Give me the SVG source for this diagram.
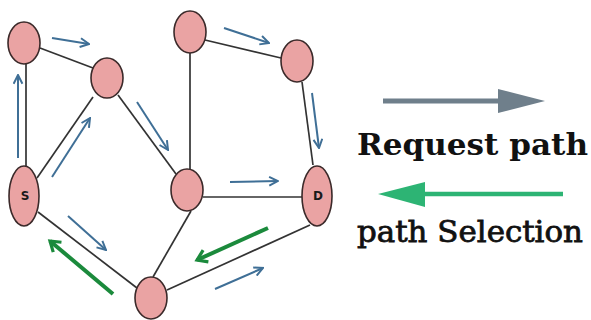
<svg xmlns="http://www.w3.org/2000/svg" width="591" height="320" viewBox="0 0 591 320">
  <style>
    .node { fill: #eaa3a3; stroke: #3b2a2a; stroke-width: 1.6; }
    .edge { stroke: #333; stroke-width: 1.7; fill: none; }
    .req { stroke: #3f6f96; stroke-width: 2; fill: none; marker-end: url(#chev); }
    .sel { stroke: #1b8a3c; stroke-width: 4; fill: none; marker-end: url(#chevG); }
    .lbl { font-family: "DejaVu Sans", sans-serif; font-weight: bold; font-size: 12px; fill: #1a1a1a; text-anchor: middle; }
    .legend { font-family: "DejaVu Serif", serif; font-size: 30px; fill: #111; }
  </style>
  <defs>
    <marker id="chev" viewBox="0 0 10 10" refX="9" refY="5" markerWidth="5.5" markerHeight="5.5" orient="auto" markerUnits="strokeWidth">
      <path d="M1,1 L9,5 L1,9" fill="none" stroke="#3f6f96" stroke-width="1.8"/>
    </marker>
    <marker id="chevG" viewBox="0 0 10 10" refX="8" refY="5" markerWidth="4" markerHeight="4" orient="auto" markerUnits="strokeWidth">
      <path d="M2,1 L8,5 L2,9" fill="none" stroke="#1b8a3c" stroke-width="2"/>
    </marker>
  </defs>
  <rect width="591" height="320" fill="#fff"/>

  <g id="connectors">
    <line class="edge" x1="40" y1="48" x2="93" y2="68"/>
    <line class="edge" x1="26" y1="64" x2="26" y2="166"/>
    <line class="edge" x1="205" y1="40" x2="281" y2="58"/>
    <line class="edge" x1="190" y1="53" x2="190" y2="169"/>
    <line class="edge" x1="302" y1="82" x2="313" y2="165"/>
    <line class="edge" x1="118" y1="95" x2="176" y2="174"/>
    <line class="edge" x1="93" y1="97" x2="37" y2="178"/>
    <line class="edge" x1="203" y1="197" x2="302" y2="197"/>
    <line class="edge" x1="191" y1="211" x2="153" y2="277" stroke-width="1.1"/>
    <line class="edge" x1="38" y1="212" x2="137" y2="288"/>
    <line class="edge" x1="167" y1="290" x2="310" y2="225"/>

    <line class="req" x1="18" y1="158" x2="18" y2="75"/>
    <line class="req" x1="52" y1="38" x2="89" y2="44"/>
    <line class="req" x1="52" y1="177" x2="90" y2="118"/>
    <line class="req" x1="137" y1="102" x2="168" y2="150"/>
    <line class="req" x1="224" y1="28" x2="269" y2="43"/>
    <line class="req" x1="312" y1="93" x2="319" y2="148"/>
    <line class="req" x1="230" y1="182" x2="278" y2="181"/>
    <line class="req" x1="68" y1="216" x2="106" y2="250"/>
    <line class="req" x1="215" y1="289" x2="263" y2="268"/>

    <line class="sel" x1="113" y1="294" x2="50" y2="241"/>
    <line class="sel" x1="268" y1="228" x2="197" y2="260"/>
  </g>

  <g id="node-a"><ellipse class="node" cx="24" cy="43" rx="16" ry="21"/></g>
  <g id="node-b"><ellipse class="node" cx="107" cy="78" rx="16" ry="20"/></g>
  <g id="node-c"><ellipse class="node" cx="190" cy="32" rx="16" ry="21"/></g>
  <g id="node-e"><ellipse class="node" cx="297" cy="61" rx="16" ry="21"/></g>
  <g id="node-s">
    <ellipse class="node" cx="24" cy="196" rx="15" ry="30"/>
    <text class="lbl" x="25" y="200">S</text>
  </g>
  <g id="node-f"><ellipse class="node" cx="187" cy="190" rx="16" ry="21"/></g>
  <g id="node-d">
    <ellipse class="node" cx="317" cy="196" rx="15" ry="30"/>
    <text class="lbl" x="318" y="200">D</text>
  </g>
  <g id="node-g"><ellipse class="node" cx="151" cy="298" rx="16" ry="21"/></g>

  <g id="legend">
    <line x1="383" y1="101" x2="500" y2="101" stroke="#6f7f8b" stroke-width="5"/>
    <polygon points="498,89 545,101 498,113" fill="#6f7f8b"/>
    <text class="legend" x="357" y="155" font-weight="bold" textLength="231" lengthAdjust="spacingAndGlyphs">Request path</text>
    <line x1="563" y1="194" x2="423" y2="194" stroke="#2db474" stroke-width="4.5"/>
    <polygon points="425,182 378,194 425,207" fill="#2db474"/>
    <text class="legend" x="357" y="242" stroke="#111" stroke-width="0.8" textLength="226" lengthAdjust="spacingAndGlyphs">path Selection</text>
  </g>
</svg>
